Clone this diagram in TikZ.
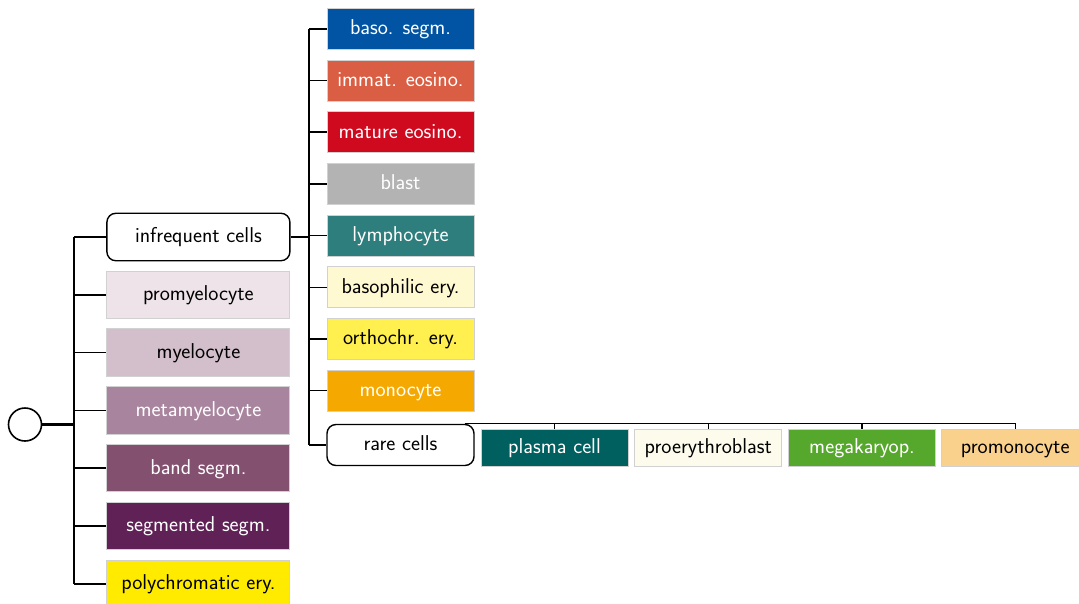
\documentclass[tikz,border=0pt]{standalone}
\usepackage{fontspec}
\definecolor{cBaso}{HTML}{0054A3}
\definecolor{cImm}{HTML}{D95E43}
\definecolor{cMat}{HTML}{CF0A1F}
\definecolor{cBlast}{HTML}{B3B3B3}
\definecolor{cLym}{HTML}{2E7E7E}
\definecolor{cBasEry}{HTML}{FFF9D2}
\definecolor{cOrtho}{HTML}{FFEF4F}
\definecolor{cMono}{HTML}{F5A800}
\definecolor{cPlasma}{HTML}{00605F}
\definecolor{cProEry}{HTML}{FDFBEC}
\definecolor{cMega}{HTML}{56A82C}
\definecolor{cPromono}{HTML}{FAD08D}
\definecolor{cPromy}{HTML}{EDE3E8}
\definecolor{cMye}{HTML}{D2BFCB}
\definecolor{cMeta}{HTML}{A8849E}
\definecolor{cBand}{HTML}{84506F}
\definecolor{cSeg}{HTML}{5F2156}
\definecolor{cPoly}{HTML}{FFEB00}
\begin{document}
\begin{tikzpicture}[x=1pt,y=-1pt,
  conn/.style={line width=1.5pt},
  label/.style={font=\fontsize{21.5}{26}\selectfont\sffamily, text height=16.3pt, text depth=4.5pt, inner sep=0pt},
  cell/.style={label, draw=black!18, line width=1pt, minimum width=147pt, minimum height=41pt},
  leftcell/.style={cell, minimum width=183pt, minimum height=47.5pt},
  rarecell/.style={cell, minimum height=37pt},
  group/.style={label, draw=black, line width=1.4pt, rounded corners=9pt, fill=white}
]
\useasboundingbox (0,0) rectangle (1079,603);

% root
\node[draw, circle, line width=1.6pt, minimum size=33pt, inner sep=0pt] (root) at (25,424.5) {};

% first level
\node[group, leftcell, draw=black, line width=1.4pt] (inf) at (198.4,237) {infrequent cells};
\node[leftcell, fill=cPromy] (pro) at (198.4,294.8) {promyelocyte};
\node[leftcell, fill=cMye] (mye) at (198.4,352.6) {myelocyte};
\node[leftcell, fill=cMeta, text=white] (meta) at (198.4,410.4) {metamyelocyte};
\node[leftcell, fill=cBand, text=white] (band) at (198.4,468.2) {band segm.};
\node[leftcell, fill=cSeg, text=white] (seg) at (198.4,526) {segmented segm.};
\node[leftcell, fill=cPoly] (poly) at (198.4,583.8) {polychromatic ery.};

% infrequent cells
\node[cell, fill=cBaso, text=white] (baso) at (400.5,28.8) {baso. segm.};
\node[cell, fill=cImm, text=white] (imm) at (400.5,80.5) {immat. eosino.};
\node[cell, fill=cMat, text=white] (mat) at (400.5,132.2) {mature eosino.};
\node[cell, fill=cBlast, text=white] (blast) at (400.5,183.9) {blast};
\node[cell, fill=cLym, text=white] (lym) at (400.5,235.6) {lymphocyte};
\node[cell, fill=cBasEry] (basery) at (400.5,287.3) {basophilic ery.};
\node[cell, fill=cOrtho] (ortho) at (400.5,339) {orthochr. ery.};
\node[cell, fill=cMono, text=white] (mono) at (400.5,390.7) {monocyte};
\node[group, cell, draw=black, line width=1.4pt] (rare) at (400.5,445) {rare cells};

% rare cells
\node[rarecell, fill=cPlasma, text=white] (plasma) at (554.5,447.5) {plasma cell};
\node[rarecell, fill=cProEry] (proery) at (708.3,447.5) {proerythroblast};
\node[rarecell, fill=cMega, text=white] (mega) at (862,447.5) {megakaryop.};
\node[rarecell, fill=cPromono] (promono) at (1015.2,447.5) {promonocyte};

% trunks
\coordinate (tl) at (74,0);
\coordinate (tr) at (309,0);

\draw[line width=2.6pt] (root.east) -- (root.east -| tl);
\draw[conn] (tl |- inf.west) -- (tl |- poly.west);
\foreach \n in {inf,pro,mye,meta,band,seg,poly}
  \draw[conn] (tl |- \n.west) -- (\n.west);

\draw[conn] (inf.east) -- (inf.east -| tr);
\draw[conn] (tr |- baso.west) -- (tr |- rare.west);
\foreach \n in {baso,imm,mat,blast,lym,basery,ortho,mono,rare}
  \draw[conn] (tr |- \n.west) -- (\n.west);

\draw[line width=1.2pt] ([xshift=-10pt]rare.north east) -- (promono.north |- rare.north) -- (promono.north);
\foreach \n in {plasma,proery,mega}
  \draw[line width=1.2pt] (\n.north |- rare.north) -- (\n.north);
\end{tikzpicture}
\end{document}
